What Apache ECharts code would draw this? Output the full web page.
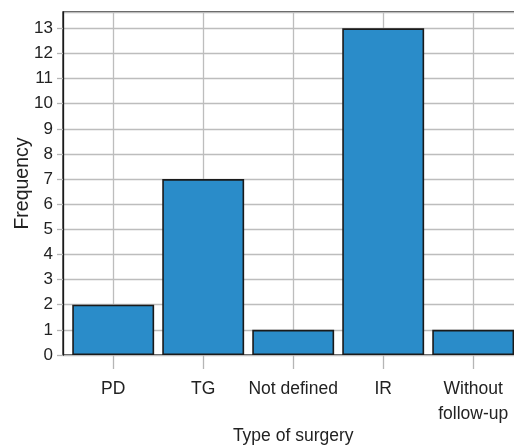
<!DOCTYPE html>
<html><head><meta charset="utf-8">
<script src="https://cdn.jsdelivr.net/npm/echarts@6/dist/echarts.min.js"></script>
<style>html,body{margin:0;padding:0;background:#fff}#c{width:514px;height:447px}</style>
</head><body><div id="c"></div>
<script>
const categories = ['PD', 'TG', 'Not defined', 'IR', 'Without\nfollow-up'];
const frequency = [2, 7, 1, 13, 1];
const yMax = 13.65;
const font = 'Liberation Sans, Arial, sans-serif';
const chart = echarts.init(document.getElementById('c'));
const gridBase = {top: 12, bottom: 92, outerBoundsMode: 'none', containLabel: false};
chart.setOption({
  animation: false,
  grid: [
    Object.assign({left: 63, width: 470, show: true, borderColor: '#1a1a1a', borderWidth: 1.3, backgroundColor: 'transparent'}, gridBase),
    Object.assign({left: 68.2, width: 450}, gridBase),
    Object.assign({left: 113.2, width: 360}, gridBase)
  ],
  xAxis: [
    {type: 'value', gridIndex: 0, show: false, min: 0, max: 1},
    {type: 'category', gridIndex: 1, data: categories,
     axisLine: {show: false}, axisTick: {show: false},
     axisLabel: {interval: 0, color: '#222', fontSize: 17.5, fontFamily: font, margin: 22, lineHeight: 25},
     splitLine: {show: false},
     name: 'Type of surgery', nameLocation: 'middle', nameGap: 72, nameMoveOverlap: false,
     nameTextStyle: {color: '#222', fontSize: 17.5, fontFamily: font}},
    {type: 'value', gridIndex: 2, min: 0, max: 4, interval: 1,
     axisLine: {show: false}, axisLabel: {show: false},
     axisTick: {show: true, length: 14, lineStyle: {color: '#b5b5b5', width: 1.3}},
     splitLine: {show: true, lineStyle: {color: '#bdbdbd', width: 1.3}}}
  ],
  yAxis: [
    {type: 'value', gridIndex: 0, min: 0, max: yMax, interval: 1,
     axisLine: {show: true, lineStyle: {color: '#1a1a1a', width: 1.3}},
     axisTick: {show: true, length: 6, lineStyle: {color: '#b5b5b5', width: 1.3}},
     axisLabel: {color: '#222', fontSize: 17, fontFamily: font, margin: 10, showMaxLabel: false},
     splitLine: {show: true, lineStyle: {color: '#bdbdbd', width: 1.3}},
     name: 'Frequency', nameLocation: 'middle', nameGap: 30, nameRotate: 90, nameMoveOverlap: false,
     nameTextStyle: {color: '#222', fontSize: 19.5, fontFamily: font}},
    {type: 'value', gridIndex: 1, min: 0, max: yMax, show: false, splitLine: {show: false}},
    {type: 'value', gridIndex: 2, min: 0, max: yMax, show: false, splitLine: {show: false}}
  ],
  series: [{
    type: 'bar', xAxisIndex: 1, yAxisIndex: 1, data: frequency,
    barCategoryGap: '9%',
    itemStyle: {color: '#2a8cc9', borderColor: '#1a1a1a', borderWidth: 1.6}
  }]
});
</script></body></html>
